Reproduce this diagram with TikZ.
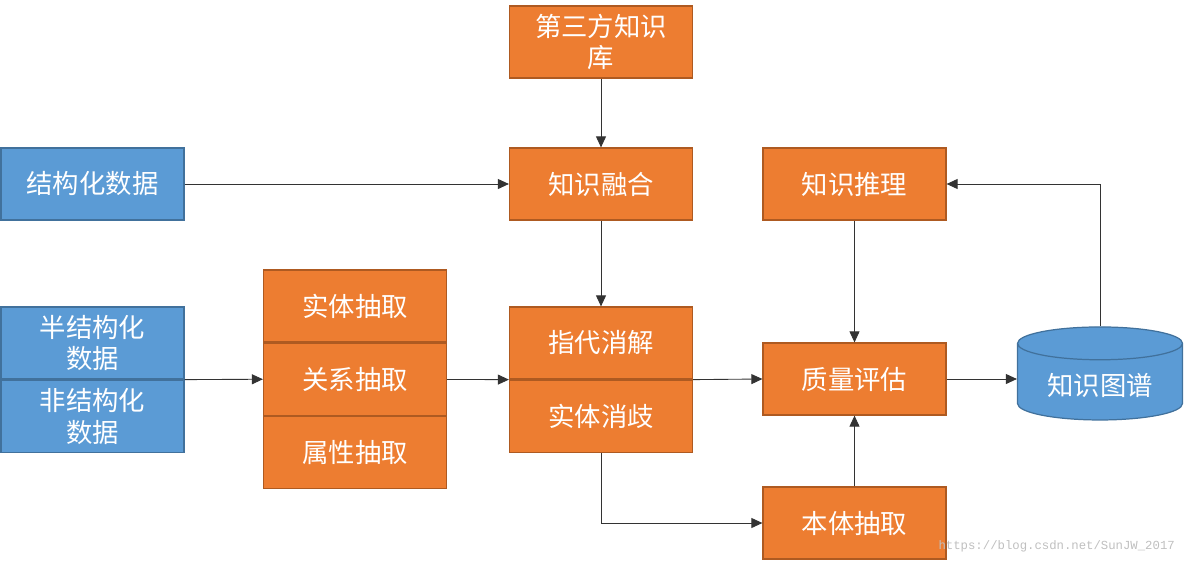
\documentclass[tikz,border=0pt]{standalone}
\usepackage{fontspec}
\newfontfamily\cjk{Noto Sans CJK SC}
\setmonofont{Liberation Mono}
\usepackage{xcolor}
\usetikzlibrary{arrows.meta, positioning, shapes.geometric, calc}

\definecolor{boxorange}{HTML}{ED7D31}
\definecolor{edgeorange}{HTML}{AE5A21}
\definecolor{boxblue}{HTML}{5B9BD5}
\definecolor{edgeblue}{HTML}{41719C}

\begin{document}
\begin{tikzpicture}[
  node distance=0pt and 1.4cm,
  box/.style={rectangle, draw=edgeorange, fill=boxorange, line width=0.7pt, align=center,
    minimum width=3.66cm, minimum height=1.44cm, inner sep=1pt, text=white,
    font=\cjk\fontsize{15}{18}\selectfont},
  src/.style={box, draw=edgeblue, fill=boxblue},
  arr/.style={-{Triangle[length=2.2mm, width=2mm]}, line width=0.5pt, black!80}
]
\useasboundingbox (0,0) rectangle (23.68,-11.2);

% sources
\node[src] (struct) at (1.85,-3.68) {结构化数据};
\node[src] (semi) at (1.85,-6.86) {半结构化\\数据};
\node[src, below=of semi] (nonstruct) {非结构化\\数据};

% extraction
\node[box] (ent) at (7.10,-6.12) {实体抽取};
\node[box, below=of ent] (rel) {关系抽取};
\node[box, below=of rel] (attr) {属性抽取};

% fusion
\node[box] (kb3) at (12.02,-0.84) {第三方知识\\库};
\node[box] (fuse) at (12.02,-3.68) {知识融合};
\node[box] (coref) at (12.02,-6.86) {指代消解};
\node[box, below=of coref] (disamb) {实体消歧};

% processing
\node[box] (reason) at (17.09,-3.68) {知识推理};
\node[box] (quality) at (17.09,-7.58) {质量评估};
\node[box] (onto) at (17.09,-10.46) {本体抽取};

\node[cylinder, shape border rotate=90, aspect=0.28, draw=edgeblue, fill=boxblue,
  line width=0.7pt, minimum width=3.3cm, minimum height=1.86cm, text=white,
  font=\cjk\fontsize{15}{18}\selectfont] (kg) at (22.0,-7.70) {\raisebox{-0.14cm}{知识图谱}};

\node[text=black!25, font=\ttfamily\fontsize{7}{8}\selectfont, anchor=east] (mark) at (23.62,-10.92) {https://blog.csdn.net/SunJW\_2017};

% connectors
\draw[arr] (kb3) -- (fuse);
\draw[arr] (struct) -- (fuse);
\draw[arr] (fuse) -- (coref);
\draw[arr] (semi.south east) -- (rel.west);
\draw[arr] (rel) -- (coref.south west);
\draw[arr] (coref.south east) -- (quality.west);
\draw[arr] (reason) -- (quality);
\draw[arr] (onto) -- (quality);
\draw[arr] (disamb.south) |- (onto.west);
\draw[arr] (quality) -- (quality -| kg.west);
\draw[arr] (kg.top) |- (reason.east);
\end{tikzpicture}
\end{document}
